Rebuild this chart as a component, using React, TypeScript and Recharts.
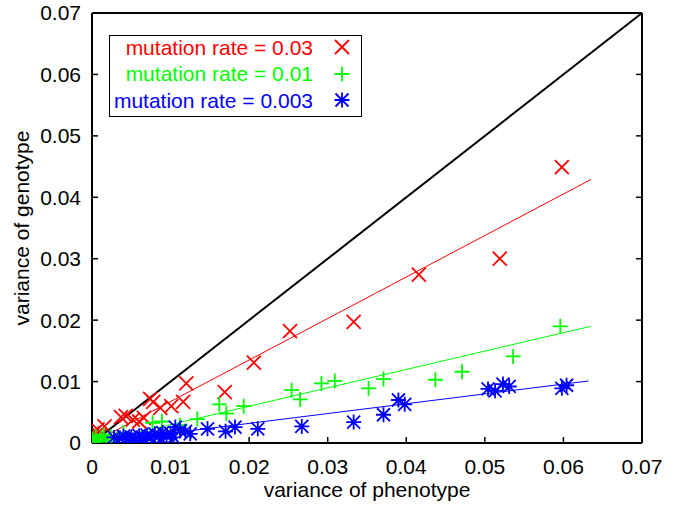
import React from 'react';
import { ScatterChart, Scatter, XAxis, YAxis, ReferenceLine, Legend } from 'recharts';

// ---- data ----
const axisTicks = [0, 0.01, 0.02, 0.03, 0.04, 0.05, 0.06, 0.07];
const axisTickLabels = ['0', '0.01', '0.02', '0.03', '0.04', '0.05', '0.06', '0.07'];

const redX = [0.0598, 0.0519, 0.0416, 0.0333, 0.0252, 0.0206, 0.0169, 0.0120, 0.0116, 0.0101, 0.0087, 0.0078, 0.0074, 0.0066, 0.0060, 0.0052, 0.0043, 0.0037, 0.0016, 0.0007, 0.0001, 0.0000, 0.0004, 0.0010];
const redY = [0.0449, 0.0300, 0.0274, 0.0197, 0.0182, 0.0131, 0.0083, 0.0097, 0.0067, 0.0060, 0.0057, 0.0067, 0.0072, 0.0041, 0.0035, 0.0038, 0.0044, 0.0042, 0.0027, 0.0022, 0.0016, 0.0008, 0.0004, 0.0012];

const greenX = [0.0596, 0.0536, 0.0471, 0.0437, 0.0371, 0.0352, 0.0309, 0.0292, 0.0265, 0.0254, 0.0193, 0.0171, 0.0162, 0.0134, 0.0112, 0.0089, 0.0077, 0.0040, 0.0024, 0.0018, 0.0012, 0.0008, 0.0005, 0.0003, 0.0001, 0.0015];
const greenY = [0.0190, 0.0141, 0.0116, 0.0103, 0.0104, 0.0089, 0.0101, 0.0097, 0.0071, 0.0086, 0.0060, 0.0048, 0.0063, 0.0039, 0.0029, 0.0035, 0.0033, 0.0017, 0.0010, 0.0004, 0.0008, 0.0003, 0.0010, 0.0002, 0.0006, 0.0013];

const blueX = [0.0604, 0.0598, 0.0531, 0.0523, 0.0513, 0.0504, 0.0398, 0.0390, 0.0371, 0.0333, 0.0267, 0.0211, 0.0182, 0.0170, 0.0147, 0.0125, 0.0119, 0.0112, 0.0106, 0.0100, 0.0095, 0.0090, 0.0085, 0.0080, 0.0075, 0.0070, 0.0065, 0.0060, 0.0055, 0.0050, 0.0045, 0.0040, 0.0035, 0.0028, 0.0052, 0.0068, 0.0088, 0.0104];
const blueY = [0.0094, 0.0089, 0.0092, 0.0096, 0.0085, 0.0088, 0.0063, 0.0070, 0.0046, 0.0034, 0.0027, 0.0023, 0.0026, 0.0019, 0.0023, 0.0015, 0.0019, 0.0020, 0.0026, 0.0016, 0.0012, 0.0017, 0.0011, 0.0015, 0.0009, 0.0013, 0.0008, 0.0012, 0.0007, 0.0010, 0.0006, 0.0011, 0.0008, 0.0009, 0.0004, 0.0005, 0.0007, 0.0009];

// fitted lines (start and end points)
const redFitX = [0, 0.0635];
const redFitY = [0, 0.0429];
const greenFitX = [0, 0.0635];
const greenFitY = [0, 0.0190];
const blueFitX = [0, 0.0632];
const blueFitY = [0, 0.0101];
const diagX = [0, 0.07];
const diagY = [0, 0.07];

const seriesLabels = ['mutation rate = 0.03', 'mutation rate = 0.01', 'mutation rate = 0.003'];

// ---- helpers ----
const zip = (xs: number[], ys: number[]) => xs.map((x, i) => ({ x, y: ys[i] }));
const redData = zip(redX, redY);
const greenData = zip(greenX, greenY);
const blueData = zip(blueX, blueY);
const seg = (xs: number[], ys: number[]) => [{ x: xs[0], y: ys[0] }, { x: xs[1], y: ys[1] }];

const RED = '#ff0000';
const GREEN = '#00ff00';
const BLUE = '#0000ff';
const FONT = '"Liberation Sans", Arial, Helvetica, sans-serif';
const FS = 21;

const crossPath = (cx: number, cy: number, s: number) =>
  `M${cx - s},${cy - s}L${cx + s},${cy + s}M${cx - s},${cy + s}L${cx + s},${cy - s}`;
const plusPath = (cx: number, cy: number, s: number) =>
  `M${cx - s},${cy}L${cx + s},${cy}M${cx},${cy - s}L${cx},${cy + s}`;

const XMark = (color: string) => (props: any) => (
  <path d={crossPath(props.cx, props.cy, 7)} stroke={color} strokeWidth={1.8} fill="none" />
);
const PlusMark = (color: string) => (props: any) => (
  <path d={plusPath(props.cx, props.cy, 7.5)} stroke={color} strokeWidth={1.8} fill="none" />
);
const StarMark = (color: string) => (props: any) => (
  <path
    d={crossPath(props.cx, props.cy, 6.5) + plusPath(props.cx, props.cy, 7.5)}
    stroke={color}
    strokeWidth={1.8}
    fill="none"
  />
);

const emptyTick = () => <g />;

const LegendBox = () => {
  const rows = [
    { label: seriesLabels[0], color: RED, d: crossPath(233, 12, 7) },
    { label: seriesLabels[1], color: GREEN, d: plusPath(233, 39, 7.5) },
    { label: seriesLabels[2], color: BLUE, d: crossPath(233, 65, 6.5) + plusPath(233, 65, 7.5) },
  ];
  const tops = [0.5, 27.2, 54.2];
  return (
    <div
      style={{
        position: 'relative',
        width: 253,
        height: 82,
        boxSizing: 'border-box',
        border: '1px solid #000',
        background: '#fff',
        fontFamily: FONT,
        fontSize: FS,
        lineHeight: `${FS}px`,
      }}
    >
      {rows.map((r, i) => (
        <div
          key={i}
          style={{ position: 'absolute', left: 0, top: tops[i], width: 203, textAlign: 'right', color: r.color, whiteSpace: 'nowrap' }}
        >
          {r.label}
        </div>
      ))}
      <svg width={253} height={82} style={{ position: 'absolute', left: -1, top: -1 }}>
        {rows.map((r, i) => (
          <path key={i} d={r.d} stroke={r.color} strokeWidth={1.8} fill="none" />
        ))}
      </svg>
    </div>
  );
};

export default function App() {
  const tickStyle = { fill: '#000', fontSize: FS, fontFamily: FONT };
  const axisLineStyle = { stroke: '#000', strokeWidth: 2 };
  const tickLineStyle = { stroke: '#000', strokeWidth: 1.5 };
  const fmt = (v: number) => axisTickLabels[axisTicks.indexOf(v)] ?? String(v);
  return (
    <div style={{ position: 'absolute', left: 0, top: 0, width: 683, height: 511, background: '#fff' }}>
      <ScatterChart width={683} height={511} margin={{ top: 12, right: 40, bottom: 0, left: 0 }}>
        <XAxis
          dataKey="x"
          type="number"
          domain={[0, 0.07]}
          ticks={axisTicks}
          tickFormatter={fmt}
          allowDataOverflow
          height={68}
          axisLine={axisLineStyle}
          tickLine={tickLineStyle}
          tickSize={-6}
          tickMargin={22}
          tick={tickStyle}
          interval={0}
          label={{ value: 'variance of phenotype', position: 'insideBottom', offset: 14, fill: '#000', fontSize: FS, fontFamily: FONT }}
        />
        <XAxis
          xAxisId="top"
          orientation="top"
          type="number"
          domain={[0, 0.07]}
          ticks={axisTicks}
          allowDataOverflow
          height={1}
          axisLine={axisLineStyle}
          tickLine={tickLineStyle}
          tickSize={-6}
          tick={emptyTick}
          interval={0}
        />
        <YAxis
          dataKey="y"
          type="number"
          domain={[0, 0.07]}
          ticks={axisTicks}
          tickFormatter={fmt}
          allowDataOverflow
          width={92}
          axisLine={axisLineStyle}
          tickLine={tickLineStyle}
          tickSize={-6}
          tickMargin={17}
          tick={tickStyle}
          interval={0}
          label={{
            value: 'variance of genotype',
            angle: -90,
            position: 'insideLeft',
            offset: 22,
            fill: '#000',
            fontSize: FS,
            fontFamily: FONT,
            style: { textAnchor: 'middle' },
          }}
        />
        <YAxis
          yAxisId="right"
          orientation="right"
          type="number"
          domain={[0, 0.07]}
          ticks={axisTicks}
          allowDataOverflow
          width={1}
          axisLine={axisLineStyle}
          tickLine={tickLineStyle}
          tickSize={-6}
          tick={emptyTick}
          interval={0}
        />
        <Scatter name={seriesLabels[0]} data={redData} shape={XMark(RED)} isAnimationActive={false} />
        <Scatter name={seriesLabels[1]} data={greenData} shape={PlusMark(GREEN)} isAnimationActive={false} />
        <Scatter name={seriesLabels[2]} data={blueData} shape={StarMark(BLUE)} isAnimationActive={false} />
        <ReferenceLine segment={seg(redFitX, redFitY)} stroke={RED} strokeWidth={1} />
        <ReferenceLine segment={seg(greenFitX, greenFitY)} stroke={GREEN} strokeWidth={1} />
        <ReferenceLine segment={seg(blueFitX, blueFitY)} stroke={BLUE} strokeWidth={1} />
        <ReferenceLine segment={seg(diagX, diagY)} stroke="#000" strokeWidth={2} />
        <Legend
          layout="horizontal"
          verticalAlign="middle"
          align="center"
          content={() => <LegendBox />}
          wrapperStyle={{ left: 109, top: 35, width: 253, height: 82 }}
        />
      </ScatterChart>
    </div>
  );
}
